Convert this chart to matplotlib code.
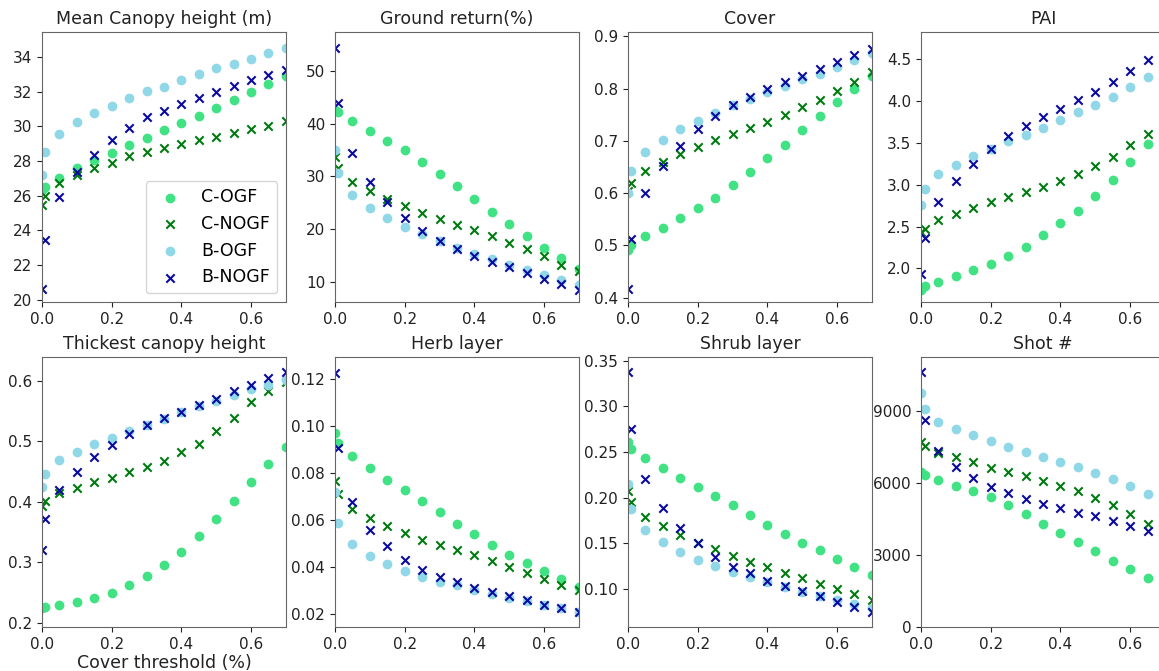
import matplotlib
matplotlib.use("Agg")
import matplotlib.pyplot as plt
from matplotlib.ticker import MultipleLocator

# cover thresholds
thresholds = [0.0, 0.01, 0.05, 0.10, 0.15, 0.20, 0.25, 0.30, 0.35, 0.40,
              0.45, 0.50, 0.55, 0.60, 0.65, 0.70]

series_names = ["C-OGF", "C-NOGF", "B-OGF", "B-NOGF"]

# mean canopy height (m)
height_c_ogf = [26.3, 26.5, 27.04, 27.6, 28.04, 28.48, 28.93, 29.35, 29.8, 30.22,
                30.6, 31.07, 31.51, 31.96, 32.44, 32.92]
height_c_nogf = [25.44, 25.98, 26.71, 27.19, 27.62, 27.9, 28.29, 28.54, 28.76, 29.0,
                 29.2, 29.41, 29.64, 29.83, 30.03, 30.32]
height_b_ogf = [27.17, 28.5, 29.56, 30.24, 30.78, 31.2, 31.65, 32.01, 32.26, 32.65,
                33.0, 33.34, 33.58, 33.9, 34.23, 34.52]
height_b_nogf = [20.62, 23.47, 25.92, 27.39, 28.35, 29.2, 29.91, 30.51, 30.88, 31.3,
                 31.65, 31.96, 32.3, 32.67, 32.94, 33.23]

# ground return (%)
ground_c_ogf = [42.5, 42.1, 40.4, 38.63, 36.73, 34.96, 32.81, 30.54, 28.2, 25.67,
                23.33, 20.93, 18.72, 16.51, 14.61, 12.53]
ground_c_nogf = [33.76, 31.67, 29.02, 27.19, 25.8, 24.34, 23.0, 21.94, 20.8, 19.86,
                 18.72, 17.46, 16.19, 14.93, 13.35, 12.09]
ground_b_ogf = [35.02, 30.6, 26.56, 23.96, 22.13, 20.49, 19.04, 17.84, 16.51, 15.43,
                14.3, 13.22, 12.27, 11.33, 10.5, 9.43]
ground_b_nogf = [54.23, 43.81, 34.52, 29.02, 25.17, 22.07, 19.6, 17.84, 16.32, 14.99,
                 13.79, 12.84, 11.77, 10.63, 9.68, 8.61]

# cover
cover_c_ogf = [0.491, 0.500, 0.518, 0.534, 0.552, 0.571, 0.591, 0.615, 0.640, 0.667,
               0.693, 0.720, 0.747, 0.774, 0.799, 0.825]
cover_c_nogf = [0.605, 0.619, 0.642, 0.659, 0.675, 0.689, 0.702, 0.713, 0.725, 0.737,
                0.750, 0.765, 0.779, 0.795, 0.813, 0.832]
cover_b_ogf = [0.600, 0.642, 0.678, 0.702, 0.722, 0.738, 0.754, 0.768, 0.780, 0.793,
               0.805, 0.818, 0.828, 0.841, 0.854, 0.868]
cover_b_nogf = [0.416, 0.512, 0.600, 0.653, 0.691, 0.722, 0.748, 0.768, 0.784, 0.799,
                0.812, 0.824, 0.837, 0.851, 0.865, 0.876]

# PAI
pai_c_ogf = [1.739, 1.791, 1.84, 1.904, 1.98, 2.052, 2.148, 2.261, 2.393, 2.542,
             2.69, 2.863, 3.051, 3.268, 3.481, 3.70]
pai_c_nogf = [2.43, 2.474, 2.582, 2.654, 2.722, 2.787, 2.851, 2.915, 2.975, 3.043,
              3.124, 3.22, 3.328, 3.469, 3.609, 3.78]
pai_b_ogf = [2.754, 2.947, 3.128, 3.24, 3.34, 3.429, 3.517, 3.597, 3.677, 3.77,
             3.866, 3.95, 4.047, 4.167, 4.291, 4.42]
pai_b_nogf = [1.928, 2.361, 2.787, 3.047, 3.248, 3.425, 3.581, 3.701, 3.806, 3.906,
              4.006, 4.107, 4.223, 4.36, 4.492, 4.63]

# thickest canopy height
thick_c_ogf = [0.225, 0.226, 0.230, 0.235, 0.242, 0.250, 0.262, 0.277, 0.295, 0.317,
               0.343, 0.372, 0.401, 0.433, 0.463, 0.490]
thick_c_nogf = [0.393, 0.402, 0.414, 0.422, 0.432, 0.440, 0.450, 0.458, 0.468, 0.482,
                0.496, 0.517, 0.539, 0.564, 0.583, 0.597]
thick_b_ogf = [0.425, 0.446, 0.469, 0.482, 0.495, 0.506, 0.517, 0.527, 0.536, 0.548,
               0.558, 0.567, 0.576, 0.586, 0.593, 0.601]
thick_b_nogf = [0.320, 0.372, 0.420, 0.450, 0.474, 0.494, 0.512, 0.527, 0.538, 0.549,
                0.560, 0.570, 0.583, 0.593, 0.604, 0.614]

# herb layer
herb_c_ogf = [0.0969, 0.0927, 0.0873, 0.0820, 0.0771, 0.0728, 0.0682, 0.0633, 0.0585, 0.0539,
              0.0495, 0.0452, 0.0417, 0.0381, 0.0349, 0.0315]
herb_c_nogf = [0.0764, 0.0710, 0.0646, 0.0608, 0.0573, 0.0543, 0.0516, 0.0495, 0.0472, 0.0452,
               0.0427, 0.0400, 0.0376, 0.0350, 0.0325, 0.0301]
herb_b_ogf = [0.0721, 0.0589, 0.0497, 0.0448, 0.0411, 0.0384, 0.0357, 0.0336, 0.0322, 0.0301,
              0.0285, 0.0268, 0.0257, 0.0240, 0.0225, 0.0208]
herb_b_nogf = [0.1227, 0.0905, 0.0675, 0.0558, 0.0488, 0.0429, 0.0386, 0.0357, 0.0335, 0.0311,
               0.0294, 0.0275, 0.0260, 0.0240, 0.0225, 0.0208]

# shrub layer
shrub_c_ogf = [0.2614, 0.2537, 0.2431, 0.2321, 0.2219, 0.2120, 0.2021, 0.1919, 0.1805, 0.1703,
               0.1600, 0.1505, 0.1421, 0.1329, 0.1242, 0.1157]
shrub_c_nogf = [0.2072, 0.1952, 0.1787, 0.1688, 0.1586, 0.1498, 0.1432, 0.1359, 0.1293, 0.1238,
                0.1176, 0.1114, 0.1059, 0.1004, 0.0945, 0.0879]
shrub_b_ogf = [0.2146, 0.1871, 0.1644, 0.1516, 0.1399, 0.1322, 0.1249, 0.1187, 0.1128, 0.1073,
               0.1018, 0.0967, 0.0920, 0.0876, 0.0835, 0.0791]
shrub_b_nogf = [0.3379, 0.2746, 0.2201, 0.1882, 0.1663, 0.1498, 0.1351, 0.1238, 0.1172, 0.1092,
                0.1037, 0.0974, 0.0920, 0.0857, 0.0799, 0.0747]

# number of shots
shots_c_ogf = [6467, 6328, 6106, 5883, 5661, 5396, 5076, 4715, 4311, 3936,
               3547, 3157, 2768, 2406, 2044, 1700]
shots_c_nogf = [7719, 7538, 7260, 7065, 6857, 6634, 6453, 6286, 6092, 5883,
                5675, 5382, 5076, 4701, 4284, 3900]
shots_b_ogf = [9736, 9082, 8553, 8247, 7983, 7747, 7510, 7288, 7093, 6871,
               6648, 6412, 6175, 5883, 5522, 5150]
shots_b_nogf = [10640, 8623, 7330, 6648, 6203, 5841, 5563, 5327, 5118, 4965,
                4757, 4603, 4409, 4200, 3992, 3750]

panels = [
    ("Mean Canopy height (m)", [height_c_ogf, height_c_nogf, height_b_ogf, height_b_nogf], (19.87, 35.43), 2),
    ("Ground return(%)", [ground_c_ogf, ground_c_nogf, ground_b_ogf, ground_b_nogf], (6.27, 57.27), 10),
    ("Cover", [cover_c_ogf, cover_c_nogf, cover_b_ogf, cover_b_nogf], (0.392, 0.908), 0.1),
    ("PAI", [pai_c_ogf, pai_c_nogf, pai_b_ogf, pai_b_nogf], (1.599, 4.821), 0.5),
    ("Thickest canopy height", [thick_c_ogf, thick_c_nogf, thick_b_ogf, thick_b_nogf], (0.1934, 0.6386), 0.1),
    ("Herb layer", [herb_c_ogf, herb_c_nogf, herb_b_ogf, herb_b_nogf], (0.0145, 0.1292), 0.02),
    ("Shrub layer", [shrub_c_ogf, shrub_c_nogf, shrub_b_ogf, shrub_b_nogf], (0.0583, 0.3537), 0.05),
    ("Shot #", [shots_c_ogf, shots_c_nogf, shots_b_ogf, shots_b_nogf], (0, 11238), 3000),
]

styles = [
    dict(marker="o", color="#40e283"),
    dict(marker="x", color="#007a10"),
    dict(marker="o", color="#90d8e8"),
    dict(marker="x", color="#0a0aa0"),
]

fig = plt.figure(figsize=(11.59, 6.71), dpi=100)

# axes rectangles, the last column runs past the right edge of the figure
lefts = [0.0362, 0.289, 0.5418, 0.7947]
bottoms = [0.55, 0.0656]
w, h = 0.2105, 0.402

for i, (title, data, ylim, step) in enumerate(panels):
    ax = fig.add_axes([lefts[i % 4], bottoms[i // 4], w, h])
    for name, vals, st in zip(series_names, data, styles):
        ax.scatter(thresholds, vals, s=36, label=name, **st)
    ax.set_xlim(0, 0.7)
    ax.set_ylim(*ylim)
    ax.xaxis.set_major_locator(MultipleLocator(0.2))
    ax.yaxis.set_major_locator(MultipleLocator(step))
    ax.set_title(title, fontsize=12.5, color="#222222")
    ax.tick_params(labelsize=11, colors="#222222")
    for sp in ax.spines.values():
        sp.set_color("#666666")
    if i == 0:
        ax.legend(loc="lower right", fontsize=12.5)
    if i == 4:
        ax.set_xlabel("Cover threshold (%)", fontsize=12.5, color="#222222", labelpad=2)

plt.savefig("out.png", dpi=100)
